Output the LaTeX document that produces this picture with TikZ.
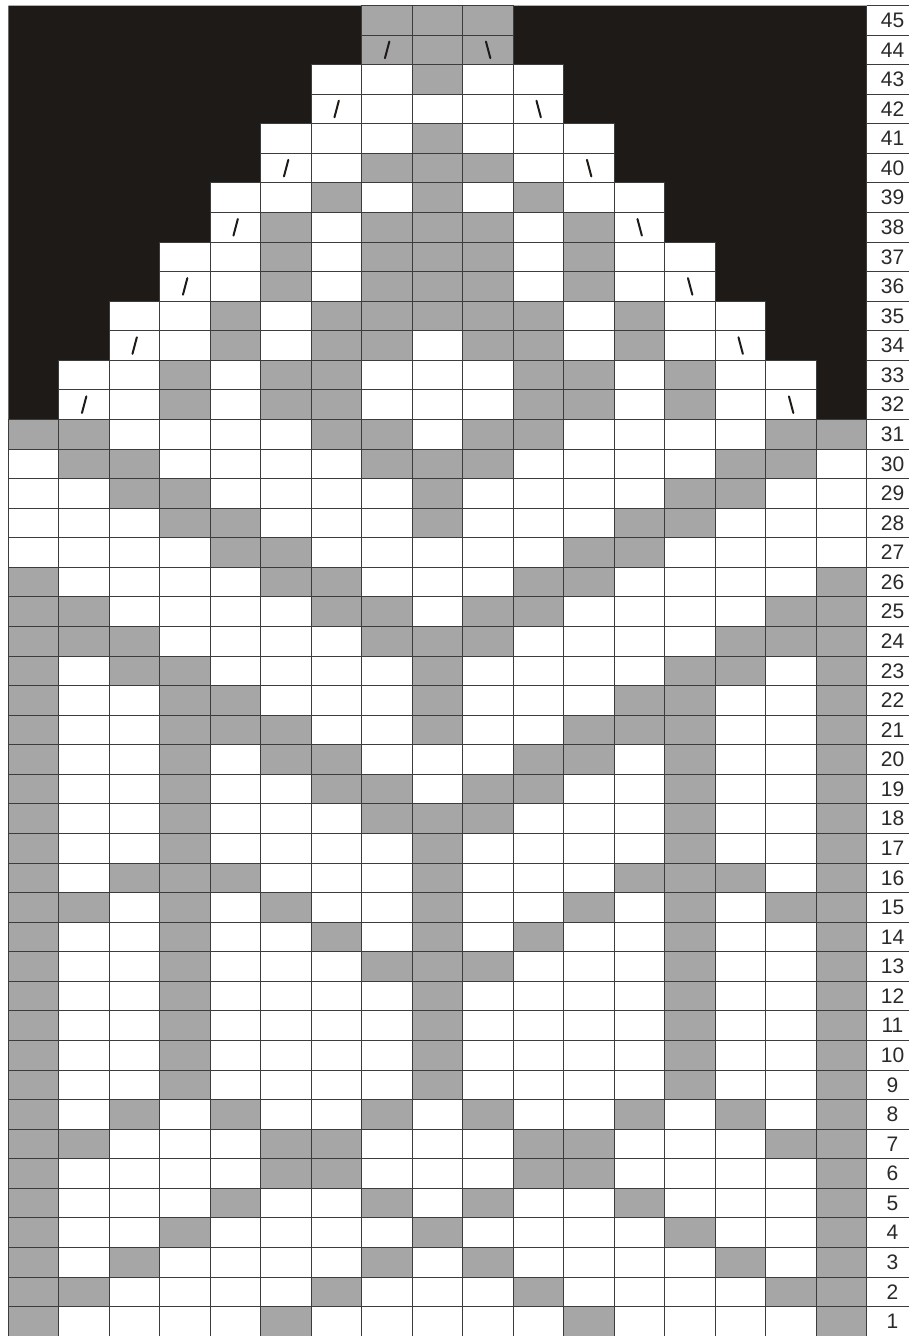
\documentclass[tikz,border=0pt]{standalone}
\usepackage{fontspec}
\setmainfont{Liberation Sans}
\definecolor{chartgray}{HTML}{A6A6A6}
\definecolor{chartblack}{HTML}{1E1A18}
\definecolor{gridline}{HTML}{3C3C3C}
\definecolor{numtext}{HTML}{2A2A2A}
\newcommand\xo{8.4}
\newcommand\yo{5.5}
\newcommand\cw{50.5}
\newcommand\ch{29.57}
% rectangle of the cell in column #1, row #2 (row 1 at the bottom)
\newcommand\cellat[2]{({\xo+(#1-1)*\cw},{\yo+(45-#2)*\ch}) rectangle ({\xo+(#1)*\cw},{\yo+(46-#2)*\ch})}
\newcommand\grayrow[2]{\foreach \gc in {#2}{\fill[graycell] \cellat{\gc}{#1};}}
\tikzset{
  graycell/.style={fill=chartgray},
  blackcell/.style={fill=chartblack},
  gridcell/.style={draw=gridline, line width=0.9pt},
  slashmark/.style={draw=chartblack, line width=2pt, line cap=round},
  numlabel/.style={font=\fontsize{21}{23}\selectfont, text=numtext, inner sep=0pt, anchor=center}
}
\begin{document}
\begin{tikzpicture}[x=1pt,y=-1pt]
\useasboundingbox (0,0) rectangle (909,1336);
\fill[white] (0,0) rectangle (909,1336);
% black background at the top
\fill[blackcell] (\xo,\yo) \foreach \k in {0,...,6}{ -- ({\xo+(7-\k)*\cw},{\yo+2*\k*\ch}) -- ({\xo+(7-\k)*\cw},{\yo+2*(\k+1)*\ch}) } -- (\xo,{\yo+14*\ch}) -- cycle;
\fill[blackcell] ({\xo+17*\cw},\yo) \foreach \k in {0,...,6}{ -- ({\xo+(10+\k)*\cw},{\yo+2*\k*\ch}) -- ({\xo+(10+\k)*\cw},{\yo+2*(\k+1)*\ch}) } -- ({\xo+17*\cw},{\yo+14*\ch}) -- cycle;
% gray cells
\grayrow{45}{8,9,10}
\grayrow{44}{8,9,10}
\grayrow{43}{9}
\grayrow{41}{9}
\grayrow{40}{8,9,10}
\grayrow{39}{7,9,11}
\grayrow{38}{6,8,9,10,12}
\grayrow{37}{6,8,9,10,12}
\grayrow{36}{6,8,9,10,12}
\grayrow{35}{5,7,8,9,10,11,13}
\grayrow{34}{5,7,8,10,11,13}
\grayrow{33}{4,6,7,11,12,14}
\grayrow{32}{4,6,7,11,12,14}
\grayrow{31}{1,2,7,8,10,11,16,17}
\grayrow{30}{2,3,8,9,10,15,16}
\grayrow{29}{3,4,9,14,15}
\grayrow{28}{4,5,9,13,14}
\grayrow{27}{5,6,12,13}
\grayrow{26}{1,6,7,11,12,17}
\grayrow{25}{1,2,7,8,10,11,16,17}
\grayrow{24}{1,2,3,8,9,10,15,16,17}
\grayrow{23}{1,3,4,9,14,15,17}
\grayrow{22}{1,4,5,9,13,14,17}
\grayrow{21}{1,4,5,6,9,12,13,14,17}
\grayrow{20}{1,4,6,7,11,12,14,17}
\grayrow{19}{1,4,7,8,10,11,14,17}
\grayrow{18}{1,4,8,9,10,14,17}
\grayrow{17}{1,4,9,14,17}
\grayrow{16}{1,3,4,5,9,13,14,15,17}
\grayrow{15}{1,2,4,6,9,12,14,16,17}
\grayrow{14}{1,4,7,9,11,14,17}
\grayrow{13}{1,4,8,9,10,14,17}
\grayrow{12}{1,4,9,14,17}
\grayrow{11}{1,4,9,14,17}
\grayrow{10}{1,4,9,14,17}
\grayrow{9}{1,4,9,14,17}
\grayrow{8}{1,3,5,8,10,13,15,17}
\grayrow{7}{1,2,6,7,11,12,16,17}
\grayrow{6}{1,6,7,11,12,17}
\grayrow{5}{1,5,8,10,13,17}
\grayrow{4}{1,4,9,14,17}
\grayrow{3}{1,3,8,10,15,17}
\grayrow{2}{1,2,7,11,16,17}
\grayrow{1}{1,6,12,17}
% grid lines of the open cells
\foreach \r/\a/\b in {45/8/10,44/8/10,43/7/11,42/7/11,41/6/12,40/6/12,39/5/13,38/5/13,37/4/14,36/4/14,35/3/15,34/3/15,33/2/16,32/2/16}{
  \foreach \c in {\a,...,\b}{\draw[gridcell] \cellat{\c}{\r};}
}
\foreach \r in {1,...,31}{
  \foreach \c in {1,...,17}{\draw[gridcell] \cellat{\c}{\r};}
}
% number column
\draw[gridcell] ({\xo+17*\cw},\yo) -- ({\xo+17*\cw},1336);
\foreach \r in {0,...,45}{
  \draw[gridcell] ({\xo+17*\cw},{\yo+\r*\ch}) -- (909,{\yo+\r*\ch});
}
\foreach \r in {1,...,45}{
  \node[numlabel] (n\r) at (892.5,{\yo+(45.5-\r)*\ch}) {\r};
}
% decrease marks
\foreach \k in {0,...,6}{
  \draw[slashmark] ({\xo+(7.5-\k)*\cw-2.2},{\yo+(1.5+2*\k)*\ch+8.3}) -- ({\xo+(7.5-\k)*\cw+2.2},{\yo+(1.5+2*\k)*\ch-8.3});
  \draw[slashmark] ({\xo+(9.5+\k)*\cw-2.2},{\yo+(1.5+2*\k)*\ch-8.3}) -- ({\xo+(9.5+\k)*\cw+2.2},{\yo+(1.5+2*\k)*\ch+8.3});
}
\end{tikzpicture}
\end{document}
